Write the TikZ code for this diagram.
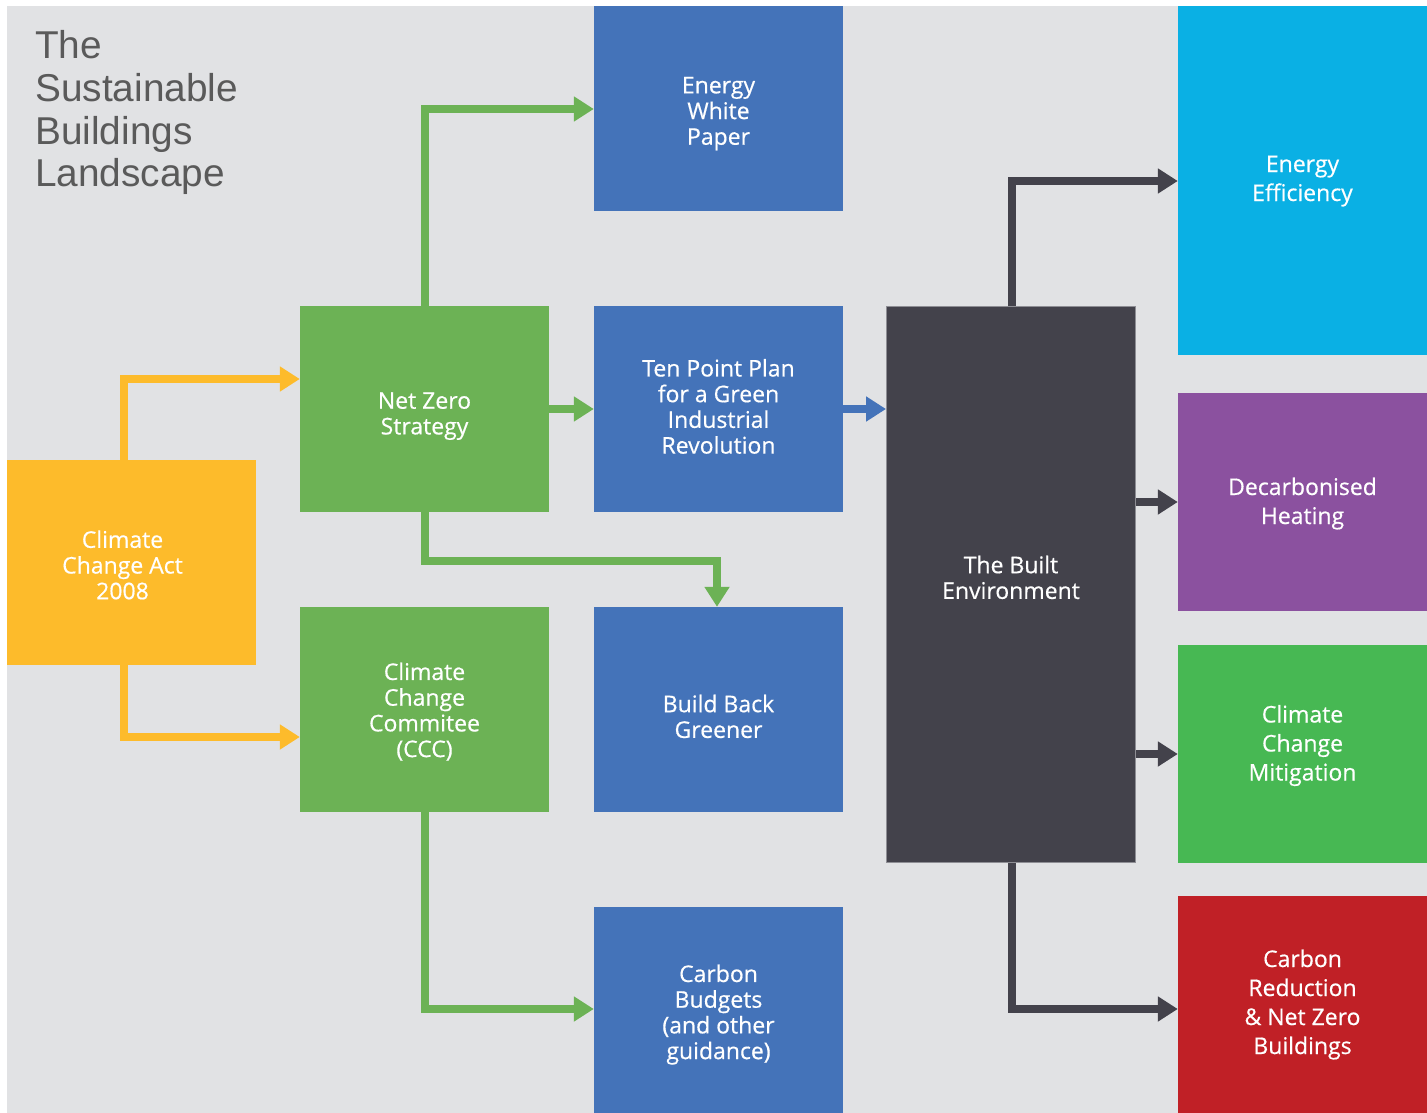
\documentclass[tikz,border=0pt]{standalone}
\usepackage{fontspec}
\setmainfont{Open Sans}[FakeBold=0.5]
\newfontfamily\titlefont{Liberation Sans}
\usetikzlibrary{arrows.meta}
\definecolor{cbg}{HTML}{E1E2E4}
\definecolor{cyel}{HTML}{FDBB2B}
\definecolor{cgrn}{HTML}{6CB255}
\definecolor{cblu}{HTML}{4473B9}
\definecolor{cdrk}{HTML}{43424B}
\definecolor{ccyn}{HTML}{0AB0E4}
\definecolor{cpur}{HTML}{8B519F}
\definecolor{cgr2}{HTML}{47B853}
\definecolor{cred}{HTML}{C02026}
\definecolor{ctit}{HTML}{5A5A5A}
\definecolor{cbrd}{HTML}{8E8E94}
\newcommand{\mvtext}[2]{\raisebox{-#1pt}[\height][\depth]{\begin{tabular}{@{}c@{}}#2\end{tabular}}}
\tikzset{
  box/.style={minimum width=249pt, inner sep=0pt, align=center, text=white,
    font=\fontsize{23}{25.7}\selectfont},
  rbox/.style={box, font=\fontsize{23}{29}\selectfont},
  conn/.style={line width=8pt, line join=miter, line cap=butt,
    -{Triangle[length=20pt,width=24pt]}},
  yarrow/.style={conn, draw=cyel},
  garrow/.style={conn, draw=cgrn},
  barrow/.style={conn, draw=cblu},
  darrow/.style={conn, draw=cdrk}
}
\begin{document}
\begin{tikzpicture}[x=1pt,y=-1pt]
\useasboundingbox (0,0) rectangle (1427,1113);
\fill[white] (0,0) rectangle (1427,1113);
\fill[cbg] (7,6) rectangle (1427,1113);

\node[anchor=north west, inner sep=0pt, align=left, text=ctit,
  font=\titlefont\fontsize{38.8}{42.7}\selectfont] (title) at (35,30.5)
  {The\\Sustainable\\Buildings\\Landscape};

\node[box, fill=cyel, minimum height=205pt] (cca) at (131.5,562.5) {\mvtext{5.9}{Climate\\Change Act\\2008}\hspace{18pt}};
\node[box, fill=cgrn, minimum height=206pt] (nzs) at (424.5,409) {\mvtext{7.4}{Net Zero\\Strategy}};
\node[box, fill=cgrn, minimum height=205pt] (ccc) at (424.5,709.5) {\mvtext{3.9}{Climate\\Change\\Commitee\\(CCC)}};
\node[box, fill=cblu, minimum height=205pt] (ewp) at (718.5,108.5) {\mvtext{5.4}{Energy\\White\\Paper}};
\node[box, fill=cblu, minimum height=206pt] (tpp) at (718.5,409) {\mvtext{0.9}{Ten Point Plan\\for a Green\\Industrial\\Revolution}};
\node[box, fill=cblu, minimum height=205pt] (bbg) at (718.5,709.5) {\mvtext{10.4}{Build Back\\Greener}};
\node[box, fill=cblu, minimum height=206pt] (cb) at (718.5,1010) {\mvtext{5.4}{Carbon\\Budgets\\(and other\\guidance)}};
\node[box, fill=cdrk, draw=cbrd, line width=1pt, minimum width=249pt, minimum height=556pt] (be) at (1011,584.5) {\mvtext{-3.6}{The Built\\Environment}};
\node[rbox, fill=ccyn, minimum height=349pt] (ee) at (1302.5,180.5) {\mvtext{0.2}{Energy\\Efficiency}};
\node[rbox, fill=cpur, minimum height=218pt] (dh) at (1302.5,502) {\mvtext{1.7}{Decarbonised\\Heating}};
\node[rbox, fill=cgr2, minimum height=218pt] (ccm) at (1302.5,754) {\mvtext{-8.3}{Climate\\Change\\Mitigation}};
\node[rbox, fill=cred, minimum height=217pt] (cr) at (1302.5,1004.5) {\mvtext{0.2}{Carbon\\Reduction\\\& Net Zero\\Buildings}};

\draw[yarrow] (cca.north -| 124,0) |- (nzs.west |- 0,379);
\draw[yarrow] (cca.south -| 124,0) |- (ccc.west |- 0,737);
\draw[garrow] (nzs.north -| 425,0) |- (ewp.west |- 0,109);
\draw[garrow] (nzs.east |- 0,409) -- (tpp.west |- 0,409);
\draw[garrow] (nzs.south -| 425,0) |- (717,561) -- (bbg.north -| 717,0);
\draw[garrow] (ccc.south -| 425,0) |- (cb.west |- 0,1009);
\draw[barrow] (tpp.east |- 0,409) -- (be.west |- 0,409);
\draw[darrow] (be.north -| 1012,0) |- (ee.west |- 0,181);
\draw[darrow] (be.east |- 0,502) -- (dh.west |- 0,502);
\draw[darrow] (be.east |- 0,754) -- (ccm.west |- 0,754);
\draw[darrow] (be.south -| 1012,0) |- (cr.west |- 0,1009);
\end{tikzpicture}
\end{document}
